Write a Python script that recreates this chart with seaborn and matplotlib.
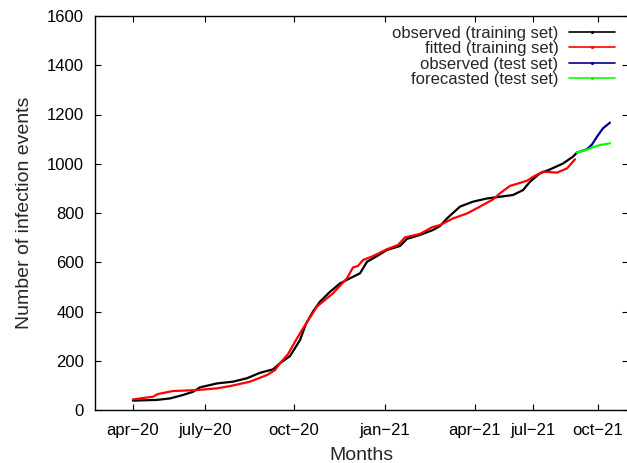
import matplotlib
matplotlib.use("Agg")
import matplotlib.pyplot as plt
import seaborn as sns
import pandas as pd
from matplotlib.lines import Line2D

# time index (arbitrary units along the month axis)
obs_train_x = [38, 62, 75, 88, 98, 105, 122, 138, 152, 165, 178, 185, 195, 205, 211, 218,
               225, 235, 245, 255, 265, 272, 282, 292, 305, 312, 325, 338, 345, 352, 365,
               378, 392, 405, 418, 428, 435, 445, 455, 468, 478, 482]
obs_train_y = [38, 41, 47, 61, 74, 92, 108, 115, 129, 151, 165, 190, 219, 284, 350, 400,
               440, 480, 514, 535, 555, 602, 625, 650, 666, 695, 711, 731, 747, 778, 826,
               846, 859, 866, 873, 893, 927, 961, 977, 1001, 1029, 1045]

fit_train_x = [38, 58, 63, 78, 102, 122, 135, 155, 172, 180, 185, 193, 200, 207, 222, 238,
               252, 258, 263, 268, 278, 292, 303, 310, 325, 337, 345, 358, 372, 385, 398,
               405, 415, 432, 438, 448, 462, 472, 480]
fit_train_y = [43, 54, 65, 77, 81, 88, 97, 115, 142, 162, 190, 227, 277, 325, 420, 474,
               535, 579, 585, 609, 625, 653, 670, 701, 715, 742, 751, 778, 798, 826, 855,
               880, 910, 931, 947, 968, 964, 981, 1018]

obs_test_x = [482, 492, 497, 502, 508, 515]
obs_test_y = [1045, 1059, 1078, 1110, 1144, 1167]

fc_test_x = [482, 492, 498, 505, 515]
fc_test_y = [1045, 1057, 1067, 1076, 1083]

labels = ["observed (training set)", "fitted (training set)",
          "observed (test set)", "forecasted (test set)"]
colors = ["#000000", "#ff0000", "#00008b", "#00ff00"]

tick_pos = [38, 110, 199, 290, 380, 438, 503]
tick_lab = ["apr\u221220", "july\u221220", "oct\u221220", "jan\u221221",
            "apr\u221221", "jul\u221221", "oct\u221221"]

frames = []
for lab, xs, ys in zip(labels,
                       [obs_train_x, fit_train_x, obs_test_x, fc_test_x],
                       [obs_train_y, fit_train_y, obs_test_y, fc_test_y]):
    frames.append(pd.DataFrame({"t": xs, "v": ys, "series": lab}))
df = pd.concat(frames, ignore_index=True)

sns.set_style("ticks")
plt.rcParams["font.family"] = ["Liberation Sans", "DejaVu Sans"]
plt.rcParams["font.size"] = 12

fig = plt.figure(figsize=(6.27, 4.63), dpi=100)
ax = fig.add_axes([95 / 627, 53 / 463, 533 / 627, 394 / 463])

sns.lineplot(data=df, x="t", y="v", hue="series", hue_order=labels,
             palette=colors, sort=False, estimator=None, legend=False,
             linewidth=1.6, ax=ax)

ax.set_xlim(0, 533)
ax.set_ylim(0, 1600)
ax.set_xticks(tick_pos)
ax.set_xticklabels(tick_lab)
ax.set_yticks(range(0, 1601, 200))
ax.tick_params(direction="in", length=4, width=0.8, top=True, right=True,
               labelsize=12, colors="black")
ax.tick_params(axis="y", pad=8)
ax.tick_params(axis="x", pad=9.5)
for s in ax.spines.values():
    s.set_linewidth(1.0)
    s.set_color("black")

ax.set_xlabel("Months", fontsize=14, labelpad=6)
ax.set_ylabel("Number of infection events", fontsize=14, labelpad=10)

handles = [Line2D([0], [0], color=c, lw=1.2, marker=".", markersize=2.5) for c in colors]
ax.legend(handles, labels, loc="upper right", bbox_to_anchor=(0.976, 0.975),
          frameon=False, markerfirst=False, handlelength=2.8, handletextpad=0.6,
          labelspacing=0.02, borderaxespad=0, borderpad=0, fontsize=12)

fig.savefig("out.png", dpi=100)
